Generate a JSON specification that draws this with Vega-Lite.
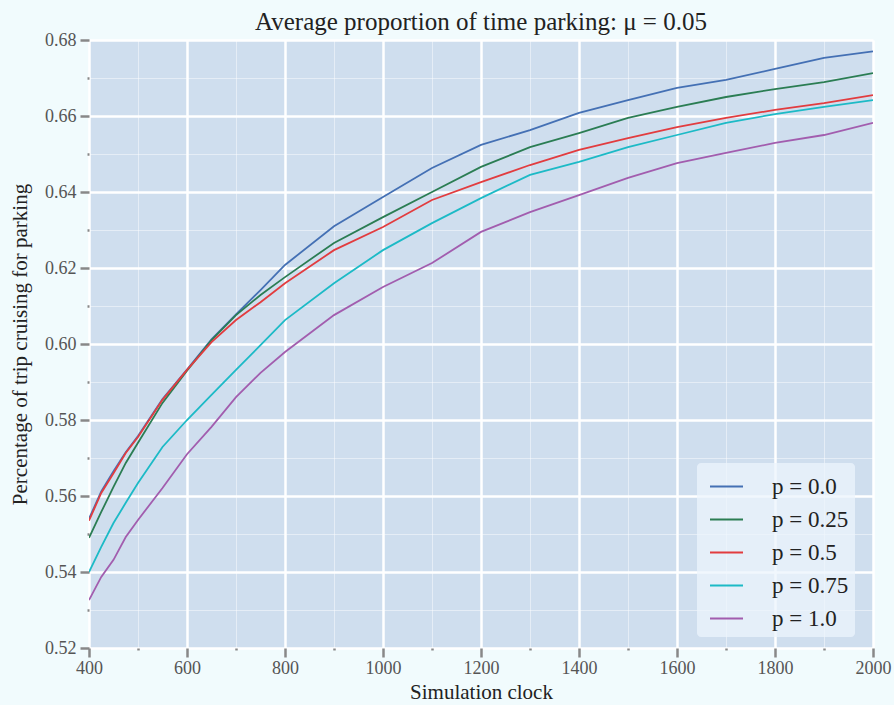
{
  "$schema": "https://vega.github.io/schema/vega-lite/v6.json",
  "width": 784,
  "height": 608,
  "autosize": "none",
  "padding": {"left": 89, "top": 40, "right": 21, "bottom": 57},
  "background": "#f1fbfd",
  "title": {"text": "Average proportion of time parking: μ = 0.05", "font": "Liberation Serif", "fontSize": 25, "fontWeight": "normal", "color": "#222222", "offset": -4},
  "config": {
    "view": {"fill": "#cfdeee", "stroke": null},
    "axis": {
      "domain": false,
      "labelFont": "Liberation Serif",
      "labelFontSize": 18,
      "labelColor": "#555555",
      "labelFlush": false,
      "titleFont": "Liberation Serif",
      "titleFontSize": 21,
      "titleFontWeight": "normal",
      "titleColor": "#222222",
      "tickColor": "#888888",
      "tickWidth": 2.5,
      "gridColor": "#ffffff"
    }
  },
  "data": {"values": [
    {"x":400,"p":"p = 0.0","y":0.5540},{"x":425,"p":"p = 0.0","y":0.5612},{"x":450,"p":"p = 0.0","y":0.5665},{"x":475,"p":"p = 0.0","y":0.5715},{"x":500,"p":"p = 0.0","y":0.5758},{"x":550,"p":"p = 0.0","y":0.5855},{"x":600,"p":"p = 0.0","y":0.5933},{"x":650,"p":"p = 0.0","y":0.6012},{"x":700,"p":"p = 0.0","y":0.6078},{"x":750,"p":"p = 0.0","y":0.6142},{"x":800,"p":"p = 0.0","y":0.6208},{"x":900,"p":"p = 0.0","y":0.6310},{"x":1000,"p":"p = 0.0","y":0.6387},{"x":1100,"p":"p = 0.0","y":0.6463},{"x":1200,"p":"p = 0.0","y":0.6524},{"x":1300,"p":"p = 0.0","y":0.6563},{"x":1400,"p":"p = 0.0","y":0.6608},{"x":1500,"p":"p = 0.0","y":0.6642},{"x":1600,"p":"p = 0.0","y":0.6674},{"x":1700,"p":"p = 0.0","y":0.6695},{"x":1800,"p":"p = 0.0","y":0.6724},{"x":1900,"p":"p = 0.0","y":0.6753},{"x":2000,"p":"p = 0.0","y":0.6770},
    {"x":400,"p":"p = 0.25","y":0.5490},{"x":425,"p":"p = 0.25","y":0.5558},{"x":450,"p":"p = 0.25","y":0.5624},{"x":475,"p":"p = 0.25","y":0.5687},{"x":500,"p":"p = 0.25","y":0.5740},{"x":550,"p":"p = 0.25","y":0.5845},{"x":600,"p":"p = 0.25","y":0.5930},{"x":650,"p":"p = 0.25","y":0.6010},{"x":700,"p":"p = 0.25","y":0.6076},{"x":750,"p":"p = 0.25","y":0.6129},{"x":800,"p":"p = 0.25","y":0.6176},{"x":900,"p":"p = 0.25","y":0.6266},{"x":1000,"p":"p = 0.25","y":0.6334},{"x":1100,"p":"p = 0.25","y":0.6400},{"x":1200,"p":"p = 0.25","y":0.6466},{"x":1300,"p":"p = 0.25","y":0.6518},{"x":1400,"p":"p = 0.25","y":0.6555},{"x":1500,"p":"p = 0.25","y":0.6595},{"x":1600,"p":"p = 0.25","y":0.6624},{"x":1700,"p":"p = 0.25","y":0.6650},{"x":1800,"p":"p = 0.25","y":0.6671},{"x":1900,"p":"p = 0.25","y":0.6689},{"x":2000,"p":"p = 0.25","y":0.6713},
    {"x":400,"p":"p = 0.5","y":0.5535},{"x":425,"p":"p = 0.5","y":0.5608},{"x":450,"p":"p = 0.5","y":0.5660},{"x":475,"p":"p = 0.5","y":0.5713},{"x":500,"p":"p = 0.5","y":0.5755},{"x":550,"p":"p = 0.5","y":0.5853},{"x":600,"p":"p = 0.5","y":0.5932},{"x":650,"p":"p = 0.5","y":0.6005},{"x":700,"p":"p = 0.5","y":0.6063},{"x":750,"p":"p = 0.5","y":0.6110},{"x":800,"p":"p = 0.5","y":0.6160},{"x":900,"p":"p = 0.5","y":0.6247},{"x":1000,"p":"p = 0.5","y":0.6308},{"x":1100,"p":"p = 0.5","y":0.6379},{"x":1200,"p":"p = 0.5","y":0.6426},{"x":1300,"p":"p = 0.5","y":0.6471},{"x":1400,"p":"p = 0.5","y":0.6511},{"x":1500,"p":"p = 0.5","y":0.6542},{"x":1600,"p":"p = 0.5","y":0.6571},{"x":1700,"p":"p = 0.5","y":0.6595},{"x":1800,"p":"p = 0.5","y":0.6616},{"x":1900,"p":"p = 0.5","y":0.6634},{"x":2000,"p":"p = 0.5","y":0.6655},
    {"x":400,"p":"p = 0.75","y":0.5400},{"x":425,"p":"p = 0.75","y":0.5466},{"x":450,"p":"p = 0.75","y":0.5529},{"x":475,"p":"p = 0.75","y":0.5582},{"x":500,"p":"p = 0.75","y":0.5634},{"x":550,"p":"p = 0.75","y":0.5729},{"x":600,"p":"p = 0.75","y":0.5800},{"x":650,"p":"p = 0.75","y":0.5866},{"x":700,"p":"p = 0.75","y":0.5932},{"x":750,"p":"p = 0.75","y":0.5997},{"x":800,"p":"p = 0.75","y":0.6063},{"x":900,"p":"p = 0.75","y":0.6160},{"x":1000,"p":"p = 0.75","y":0.6247},{"x":1100,"p":"p = 0.75","y":0.6318},{"x":1200,"p":"p = 0.75","y":0.6384},{"x":1300,"p":"p = 0.75","y":0.6445},{"x":1400,"p":"p = 0.75","y":0.6479},{"x":1500,"p":"p = 0.75","y":0.6518},{"x":1600,"p":"p = 0.75","y":0.6550},{"x":1700,"p":"p = 0.75","y":0.6582},{"x":1800,"p":"p = 0.75","y":0.6605},{"x":1900,"p":"p = 0.75","y":0.6624},{"x":2000,"p":"p = 0.75","y":0.6642},
    {"x":400,"p":"p = 1.0","y":0.5326},{"x":425,"p":"p = 1.0","y":0.5387},{"x":450,"p":"p = 1.0","y":0.5432},{"x":475,"p":"p = 1.0","y":0.5492},{"x":500,"p":"p = 1.0","y":0.5537},{"x":550,"p":"p = 1.0","y":0.5621},{"x":600,"p":"p = 1.0","y":0.5710},{"x":650,"p":"p = 1.0","y":0.5782},{"x":700,"p":"p = 1.0","y":0.5860},{"x":750,"p":"p = 1.0","y":0.5924},{"x":800,"p":"p = 1.0","y":0.5979},{"x":900,"p":"p = 1.0","y":0.6076},{"x":1000,"p":"p = 1.0","y":0.6150},{"x":1100,"p":"p = 1.0","y":0.6213},{"x":1200,"p":"p = 1.0","y":0.6295},{"x":1300,"p":"p = 1.0","y":0.6347},{"x":1400,"p":"p = 1.0","y":0.6392},{"x":1500,"p":"p = 1.0","y":0.6437},{"x":1600,"p":"p = 1.0","y":0.6476},{"x":1700,"p":"p = 1.0","y":0.6503},{"x":1800,"p":"p = 1.0","y":0.6529},{"x":1900,"p":"p = 1.0","y":0.6550},{"x":2000,"p":"p = 1.0","y":0.6582}
  ]},
  "mark": {"type": "line", "strokeWidth": 1.8, "clip": true},
  "encoding": {
    "x": {
      "field": "x", "type": "quantitative",
      "scale": {"domain": [400, 2000], "nice": false, "zero": false},
      "axis": {
        "title": "Simulation clock",
        "titlePadding": 4,
        "values": [400,500,600,700,800,900,1000,1100,1200,1300,1400,1500,1600,1700,1800,1900,2000],
        "format": "d",
        "labelExpr": "datum.value % 200 === 0 ? datum.label : ''",
        "labelPadding": 2,
        "tickSize": {"condition": {"test": "datum.value % 200 === 0", "value": 9}, "value": 2},
        "gridWidth": {"condition": {"test": "datum.value % 200 === 0", "value": 2.5}, "value": 1},
        "gridOpacity": {"condition": {"test": "datum.value % 200 === 0", "value": 1}, "value": 0.45}
      }
    },
    "y": {
      "field": "y", "type": "quantitative",
      "scale": {"domain": [0.52, 0.68], "nice": false, "zero": false},
      "axis": {
        "title": "Percentage of trip cruising for parking",
        "titlePadding": 14,
        "values": [0.52,0.53,0.54,0.55,0.56,0.57,0.58,0.59,0.60,0.61,0.62,0.63,0.64,0.65,0.66,0.67,0.68],
        "labelExpr": "round(datum.value*100) % 2 === 0 ? format(datum.value, '.2f') : ''",
        "labelPadding": 4,
        "tickSize": {"condition": {"test": "round(datum.value*100) % 2 === 0", "value": 9}, "value": 2},
        "gridWidth": {"condition": {"test": "round(datum.value*100) % 2 === 0", "value": 2.5}, "value": 1},
        "gridOpacity": {"condition": {"test": "round(datum.value*100) % 2 === 0", "value": 1}, "value": 0.45}
      }
    },
    "color": {
      "field": "p", "type": "nominal",
      "scale": {"domain": ["p = 0.0", "p = 0.25", "p = 0.5", "p = 0.75", "p = 1.0"], "range": ["#4470b4", "#2b7d53", "#e23c3f", "#1cbac6", "#a25dae"]},
      "legend": {
        "title": null,
        "orient": "none",
        "legendX": 608,
        "legendY": 423,
        "symbolType": "stroke",
        "symbolSize": 1089,
        "symbolStrokeWidth": 2,
        "symbolOffset": 6,
        "labelFont": "Liberation Serif",
        "labelFontSize": 23,
        "labelColor": "#222222",
        "labelOffset": 28,
        "rowPadding": 3,
        "padding": 6,
        "fillColor": "rgba(236,244,252,0.75)",
        "strokeColor": null,
        "cornerRadius": 4
      }
    }
  }
}
